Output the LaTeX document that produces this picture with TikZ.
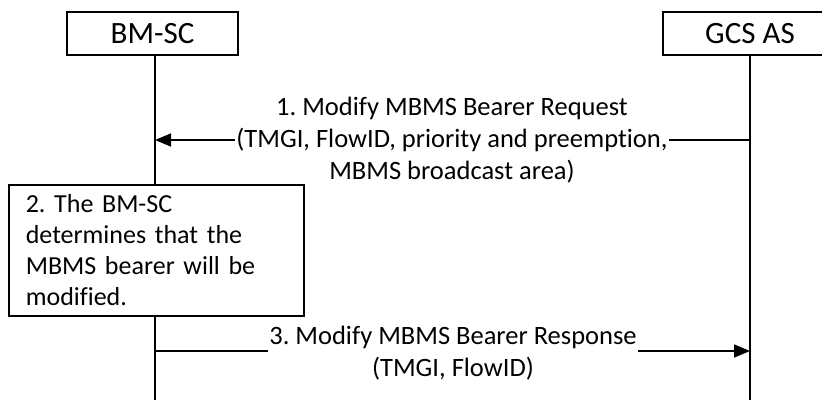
\documentclass[tikz,border=0pt]{standalone}
\usepackage{fontspec}
\setmainfont{Carlito}[Ligatures=NoCommon]
\frenchspacing
\usetikzlibrary{arrows.meta}
\tikzset{
  headbox/.style={draw, line width=1.6pt, minimum height=43pt, inner sep=0pt,
    font=\fontsize{31}{37}\selectfont},
  lifeline/.style={line width=1.6pt},
  msg/.style={line width=1.6pt, -{Triangle[length=16pt,width=13pt]}},
  msglabel/.style={fill=white, inner xsep=1.5pt, inner ysep=0pt, align=center,
    font=\fontsize{26.5}{32}\selectfont},
  actbox/.style={draw, line width=1.6pt, fill=white, anchor=north west,
    minimum width=295pt, minimum height=131pt, inner xsep=17pt, inner ysep=0pt,
    align=left, text width=261pt, font=\fontsize{26}{31}\selectfont}
}
\begin{document}
\begin{tikzpicture}[x=1pt,y=-1pt]
\useasboundingbox (0,0) rectangle (822,400);
\clip (0,0) rectangle (822,400);
% heads
\node[headbox, minimum width=171pt] (bm) at (152.5,33.5) {BM-SC};
\node[headbox, minimum width=174pt] (gcs) at (750,33.5) {GCS AS};
% lifeline ends
\coordinate (bmL) at (155,400);
\coordinate (gcsL) at (750,400);
\draw[lifeline] (bm.south -| bmL) -- (bmL);
\draw[lifeline] (gcs.south -| gcsL) -- (gcsL);
% message 1
\coordinate (m1s) at (750,140);
\coordinate (m1e) at (155,140);
\draw[msg] (m1s) -- (m1e);
\node[msglabel] (l1) at (452,140) {1. Modify MBMS Bearer Request\\(TMGI, FlowID, priority and preemption,\\MBMS broadcast area)};
% action box
\node[actbox] (act) at (8,184) {2. The BM-SC\\determines that the\\MBMS bearer will be\\modified.};
% message 3
\coordinate (m3s) at (155,351);
\coordinate (m3e) at (750,351);
\draw[msg] (m3s) -- (m3e);
\node[msglabel] (l3) at (453,353) {3. Modify MBMS Bearer Response\\(TMGI, FlowID)};
\end{tikzpicture}
\end{document}
